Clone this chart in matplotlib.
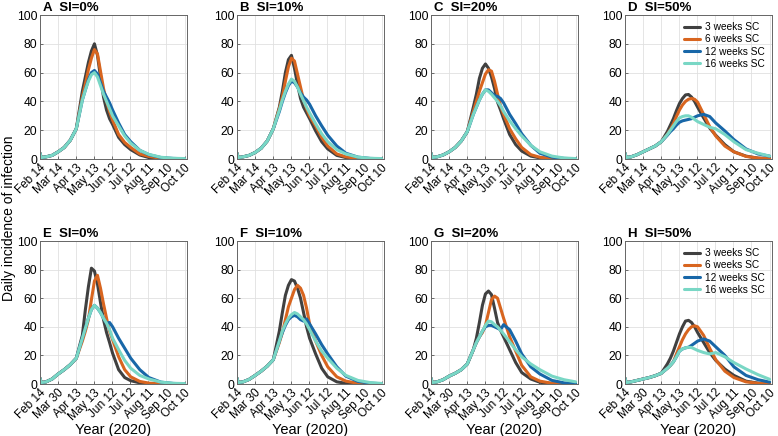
import matplotlib
matplotlib.use("Agg")
import matplotlib.pyplot as plt

plt.rcParams['font.family'] = ['Liberation Sans', 'DejaVu Sans']

# ---------------- data (days since Feb 14, 2020) ----------------
DAYS = [0, 2, 10, 20, 30, 40, 50, 60, 70, 75, 80, 85, 90, 95, 100, 105, 110, 115, 120, 130, 140, 150, 165, 180, 200, 220, 239]

SERIES = ["3 weeks SC", "6 weeks SC", "12 weeks SC", "16 weeks SC"]
COLORS = ["#404040", "#d8651f", "#1867a8", "#79d7c5"]

TICK_POS = [0, 29, 59, 89, 119, 149, 179, 209, 239]
TICKS_TOP = ["Feb 14", "Mar 14", "Apr 13", "May 13", "Jun 12", "Jul 12", "Aug 11", "Sep 10", "Oct 10"]
TICKS_BOTTOM = ["Feb 14", "Mar 30", "Apr 13", "May 13", "Jun 12", "Jul 12", "Aug 11", "Sep 10", "Oct 10"]

TITLES = ["A  SI=0%", "B  SI=10%", "C  SI=20%", "D  SI=50%",
          "E  SI=0%", "F  SI=10%", "G  SI=20%", "H  SI=50%"]

# Panel A (SI=0%, top row)
A_3 = [4, 1, 1.5, 2.5, 5, 8, 13, 21, 47, 57, 67, 75, 80, 72, 57, 43, 34, 28, 24, 15, 10, 6.5, 2.8, 1, 0.3, 0.1, 0]
A_6 = [4, 1, 1.5, 2.5, 5, 8, 13, 21, 43, 52, 62, 70, 76, 73, 61, 49, 40, 33, 27, 17, 11.5, 8, 3.5, 1.8, 0.5, 0.1, 0]
A_12 = [4, 1, 1.5, 2.5, 5, 8, 13, 21, 41, 48, 55, 60, 61.5, 59, 53, 47, 43, 39, 34, 25, 17, 12, 6, 3, 1, 0.4, 0.2]
A_16 = [4, 1, 1.5, 2.5, 5, 8, 13, 21, 41, 48, 54, 58.5, 60, 57, 51, 45, 40, 35, 30, 23, 16, 11, 6, 3.2, 1.2, 0.5, 0.3]
# Panel B (SI=10%)
B_3 = [4, 1, 1.5, 2.5, 4.5, 7.5, 12.5, 21, 36, 47, 60, 69, 72, 63, 52, 42, 36, 32, 28, 19.5, 12, 7, 2.5, 1, 0.3, 0.1, 0]
B_6 = [4, 1, 1.5, 2.5, 4.5, 7.5, 12.5, 21, 35, 43, 54, 64, 70, 68, 59, 50, 41, 35, 30, 23, 15, 9, 3.5, 1.5, 0.4, 0.1, 0]
B_12 = [4, 1, 1.5, 2.5, 4.5, 7.5, 12.5, 21, 33, 40, 46, 51, 54, 53, 50, 46, 43, 41, 38, 30, 23, 16.5, 9, 4, 1.3, 0.4, 0.2]
B_16 = [4, 1, 1.5, 2.5, 4.5, 7.5, 12.5, 21, 34, 41, 47, 52, 55.5, 54, 50, 45, 40.5, 36, 32, 24.5, 17.5, 12, 6.5, 3.5, 1.3, 0.5, 0.3]
# Panel C (SI=20%)
C_3 = [4, 1, 1.5, 2.8, 5, 8, 12.5, 19, 36, 45, 56, 63, 66, 63, 57, 49, 39.5, 34, 28, 17, 10, 5.5, 2, 0.8, 0.2, 0, 0]
C_6 = [4, 1, 1.5, 2.8, 5, 8, 12.5, 19, 33, 40, 47, 53, 59, 62, 61, 54, 45, 37, 31, 21, 14, 8, 3, 1.2, 0.3, 0.1, 0]
C_12 = [4, 1, 1.5, 2.8, 5, 8, 12.5, 19, 31, 36, 41, 45, 48, 48, 46, 44, 43.5, 42, 39, 31, 24.5, 17.5, 9.5, 4, 1.3, 0.4, 0.2]
C_16 = [4, 1, 1.5, 2.8, 5, 8, 12.5, 19, 31, 36, 41, 45, 48, 47, 45, 42.5, 40, 37, 33, 26.5, 21, 16, 9.5, 5, 2, 0.7, 0.3]
# Panel D (SI=50%)
D_3 = [4, 1, 1.5, 3, 5, 7, 9, 12, 19, 23.5, 28, 33.5, 38.5, 42, 44.5, 44.8, 43, 40, 36, 28.5, 21.5, 16.5, 10, 5, 2, 0.6, 0.2]
D_6 = [4, 1, 1.5, 3, 5, 7, 9, 12, 17, 20.5, 24.5, 29.5, 34, 37.5, 40, 41.5, 42, 41.5, 39.5, 31, 22.5, 16, 9, 5, 1.8, 0.6, 0.2]
D_12 = [4, 1, 1.5, 3, 5, 7, 9, 12, 16.5, 19, 21, 23.5, 25.5, 26.5, 27, 27.5, 28, 29, 30, 31, 29.5, 25, 19.5, 13.5, 7, 3.5, 2]
D_16 = [4, 1, 1.5, 3, 5, 7, 9, 12, 17, 20, 23, 26, 28.5, 29.5, 30, 30, 29, 27.5, 26, 24, 22, 21, 17, 12, 6.5, 4, 2]
# Panel E (SI=0%, bottom row)
E_3 = [4, 1, 1.5, 3.5, 7, 10, 13.5, 18, 34, 52, 68, 81, 79, 70, 57, 45, 36, 29, 21.5, 10, 4.5, 2.3, 0.8, 0.3, 0.1, 0, 0]
E_6 = [4, 1, 1.5, 3.5, 7, 10, 13.5, 18, 30, 37, 45, 59, 72, 76, 67, 56, 46, 37, 31, 19, 10, 5, 1.8, 0.6, 0.2, 0, 0]
E_12 = [4, 1, 1.5, 3.5, 7, 10, 13.5, 18, 32, 39, 46, 52, 55, 53, 50, 46, 42.5, 43, 40, 32, 25, 18, 10, 4.5, 1.3, 0.4, 0.1]
E_16 = [4, 1, 1.5, 3.5, 7, 10, 13.5, 18, 32, 39, 46, 52, 55, 53, 50, 46, 42.5, 38, 32, 24, 16.5, 11, 6, 3.5, 1.3, 0.5, 0.3]
# Panel F (SI=10%)
F_3 = [4, 1, 1.5, 3.2, 6, 9, 12.5, 17, 37, 50, 62, 69, 73, 72, 67, 60, 50, 40, 32, 21, 11, 5, 1.5, 0.5, 0.1, 0, 0]
F_6 = [4, 1, 1.5, 3.2, 6, 9, 12.5, 17, 29, 36, 45, 54, 60, 66, 69, 67, 62, 53, 42, 30, 20, 12, 5, 2, 0.5, 0.1, 0]
F_12 = [4, 1, 1.5, 3.2, 6, 9, 12.5, 17, 30, 36, 41, 45, 47, 48, 47, 45, 44, 45.5, 42, 35, 27.5, 21, 12, 5.5, 1.8, 0.6, 0.2]
F_16 = [4, 1, 1.5, 3.2, 6, 9, 12.5, 17, 30, 37, 42, 46, 48.5, 50, 49, 47, 45, 42, 38, 30, 23, 18, 11, 6, 2.5, 1, 0.4]
# Panel G (SI=20%)
G_3 = [4, 1, 1.5, 3, 5.5, 7.5, 10, 14, 24, 32, 43, 55, 63, 65, 62.5, 53, 43, 37.5, 33, 24, 15, 8, 3.5, 1.2, 0.3, 0.1, 0]
G_6 = [4, 1, 1.5, 3, 5.5, 7.5, 10, 14, 24, 29, 33, 36, 41, 50, 59, 61.5, 60, 53, 46, 33, 23, 13, 5, 2, 0.5, 0.1, 0]
G_12 = [4, 1, 1.5, 3, 5.5, 7.5, 10, 14, 24, 29, 33, 37, 40, 41, 41, 40, 39, 38, 41.5, 38, 30, 21, 12, 7, 2.5, 0.8, 0.3]
G_16 = [4, 1, 1.5, 3, 5.5, 7.5, 10, 14, 24, 29, 33, 37, 41, 44, 43.5, 41.5, 40, 37.5, 35, 29.5, 24, 19, 14, 10, 5.5, 3, 1.5]
# Panel H (SI=50%)
H_3 = [4, 1, 1.5, 2.5, 3.5, 4.5, 5.8, 7.5, 14, 18, 23, 29, 35, 40, 44, 44.5, 43, 40, 36, 29, 22, 16.5, 10.5, 6, 2, 0.6, 0.2]
H_6 = [4, 1, 1.5, 2.5, 3.5, 4.5, 5.8, 7.5, 11, 13, 15.5, 21, 26, 31, 35, 38, 40, 40.7, 40, 34, 25, 17, 9, 4.5, 1.5, 0.5, 0.1]
H_12 = [4, 1, 1.5, 2.5, 3.5, 4.5, 5.8, 7.5, 11, 13, 15.5, 19, 23, 24.5, 25.3, 25.7, 27, 28.5, 30, 31.5, 30, 26, 20, 12, 6, 3, 1.3]
H_16 = [4, 1, 1.5, 2.5, 3.5, 4.5, 5.8, 7.5, 11, 13, 15.5, 19, 23, 24.5, 25.3, 25.7, 25.5, 24.5, 23.5, 22, 21, 22, 19, 15, 10.5, 6.5, 3.3]

PANELS = [(A_3, A_6, A_12, A_16), (B_3, B_6, B_12, B_16), (C_3, C_6, C_12, C_16), (D_3, D_6, D_12, D_16),
          (E_3, E_6, E_12, E_16), (F_3, F_6, F_12, F_16), (G_3, G_6, G_12, G_16), (H_3, H_6, H_12, H_16)]

# ---------------- figure ----------------
W, H = 778, 436
fig = plt.figure(figsize=(W / 100, H / 100), dpi=100)

lefts = [40, 237, 431, 625]
ax_w = 147
rows = [(15, 159), (241, 384)]

for i, series in enumerate(PANELS):
    r, c = divmod(i, 4)
    top, bot = rows[r]
    ax = fig.add_axes([lefts[c] / W, 1 - bot / H, ax_w / W, (bot - top) / H])
    for vals, col, name in zip(series, COLORS, SERIES):
        ax.plot(DAYS, vals, color=col, lw=2.2, label=name,
                solid_capstyle='round', solid_joinstyle='round')
    ax.set_xlim(0, 243)
    ax.set_ylim(0, 100)
    ax.set_yticks([0, 20, 40, 60, 80, 100])
    ax.set_xticks(TICK_POS)
    ax.set_xticklabels(TICKS_TOP if r == 0 else TICKS_BOTTOM, rotation=45,
                       ha='right', rotation_mode='anchor', fontsize=8.5)
    ax.tick_params(axis='y', labelsize=8.7, pad=2)
    ax.tick_params(axis='both', direction='in', length=2.5, color='#555555', width=0.6)
    ax.tick_params(axis='x', pad=2)
    ax.grid(True, color='#e0e0e0', lw=0.6)
    ax.set_axisbelow(True)
    for s in ax.spines.values():
        s.set_color('#666666')
        s.set_linewidth(0.7)
    ax.set_title(TITLES[i], loc='left', fontsize=9.5, fontweight='bold', pad=3, x=0.02)
    if c == 3:
        ax.legend(loc='upper right', frameon=False, fontsize=7.3, handlelength=1.6,
                  handletextpad=0.5, labelspacing=0.22, borderaxespad=0.3,
                  bbox_to_anchor=(1.0, 1.0))
    if r == 1:
        ax.set_xlabel("Year (2020)", fontsize=10.5, labelpad=0)

fig.text(0.012, 0.5, "Daily incidence of infection", rotation=90, va='center', ha='center', fontsize=10)

fig.savefig("out.png", dpi=100)
